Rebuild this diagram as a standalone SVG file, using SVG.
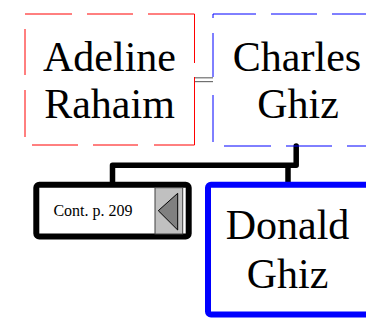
<svg xmlns="http://www.w3.org/2000/svg" width="366" height="321" viewBox="0 0 366 321">
<style>
.name{font-family:"Liberation Serif","Times New Roman",serif;font-size:42px;fill:#000;text-anchor:middle}
.small{font-family:"Liberation Serif","Times New Roman",serif;font-size:16px;fill:#000;text-anchor:middle}
.dashR{fill:none;stroke:#ff0000;stroke-width:1}
.dashB{fill:none;stroke:#0000ff;stroke-width:1}
.conn{fill:none;stroke:#000;stroke-width:5.5;stroke-linejoin:round;stroke-linecap:round}
</style>
<rect width="366" height="321" fill="#fff"/>
<g id="connectors">
  <line x1="194.5" y1="79.7" x2="213" y2="79.7" stroke="#707070" stroke-width="5"/>
  <line x1="194.5" y1="79.7" x2="213" y2="79.7" stroke="#fff" stroke-width="2.6"/>
  <path class="conn" d="M296.2 146 V165.3 H112.5 V183"/>
  <path class="conn" d="M288 165.3 V182" style="stroke-linecap:butt"/>
</g>
<g id="node-adeline">
  <rect x="25" y="14" width="169.5" height="131" fill="#fff"/>
  <path class="dashR" d="M25 14H72M87 14H133M148 14H194.5V63M194.5 77V145H154M138 145H93M78 145H32M25 137V90M25 75V29"/>
  <text class="name" x="109.5" y="71">Adeline</text>
  <text class="name" x="109.5" y="118.3">Rahaim</text>
</g>
<g id="node-charles">
  <path class="dashB" d="M213 18V14H256M271 14H317M332 14H370M224 146H271M286 146H332M347 146H370M213 33V77M213 95V142"/>
  <text class="name" x="297" y="71">Charles</text>
  <text class="name" x="298" y="118.3">Ghiz</text>
</g>
<g id="node-cont">
  <rect x="36.3" y="184.7" width="152.4" height="51.8" rx="3" fill="#fff" stroke="#000" stroke-width="6"/>
  <rect x="155" y="187.7" width="27.7" height="46.3" fill="#c0c0c0" stroke="#404040" stroke-width="1"/>
  <polygon points="158.3,210.7 177.7,193.3 177.7,230" fill="#808080" stroke="#000" stroke-width="1"/>
  <text class="small" x="93" y="216">Cont. p. 209</text>
</g>
<g id="node-donald">
  <rect x="208" y="184.7" width="162" height="129.8" rx="3" fill="#fff" stroke="#0000ff" stroke-width="6"/>
  <text class="name" x="287.5" y="239">Donald</text>
  <text class="name" x="287.5" y="288.3">Ghiz</text>
</g>
</svg>
